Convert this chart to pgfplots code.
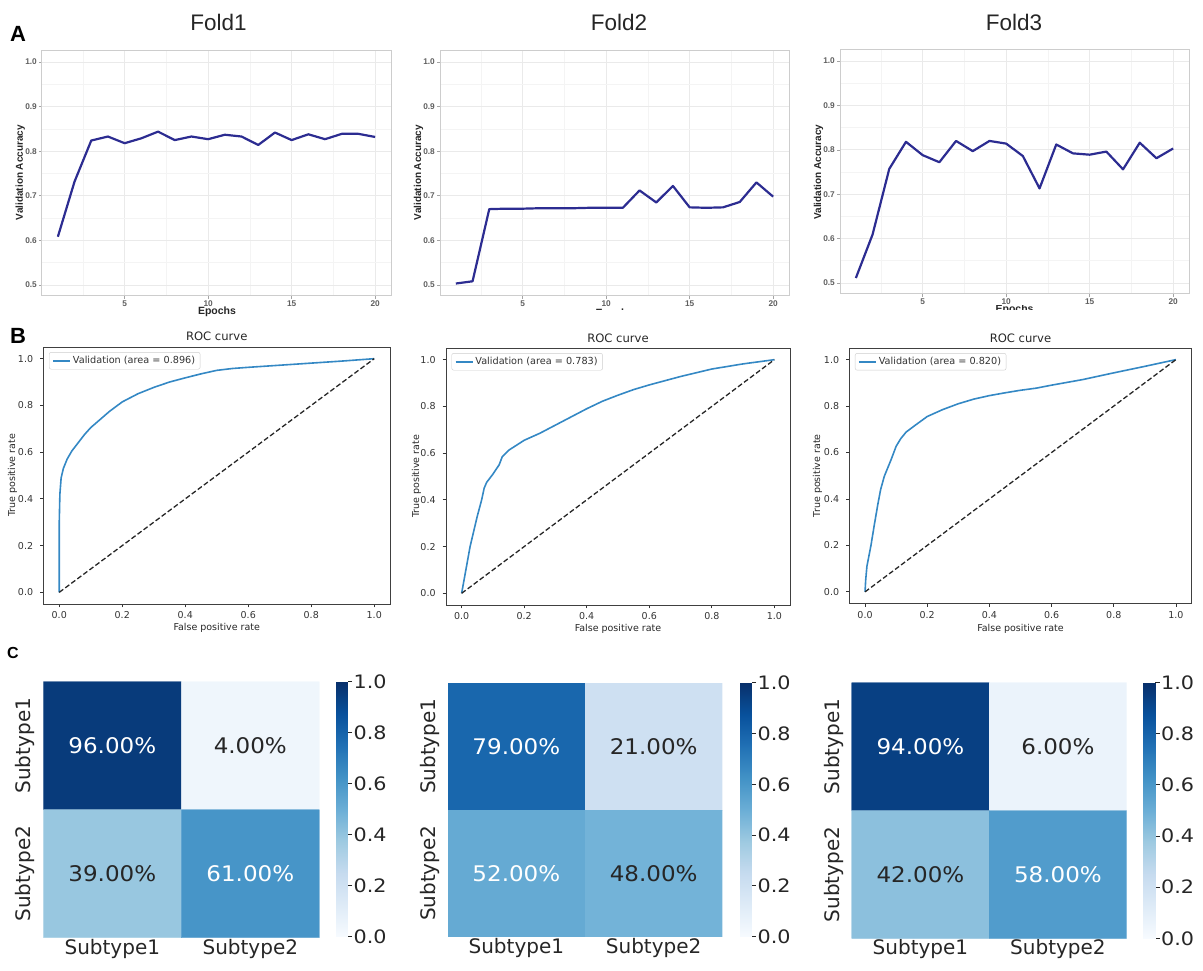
\documentclass[border=0pt]{standalone}
\usepackage{fontspec}
\setmainfont{DejaVu Sans}
\newfontfamily\arial{Liberation Sans}
\newfontfamily\dvs[FakeStretch=1.07]{DejaVu Sans}
\newfontfamily\dvsw[FakeStretch=1.12]{DejaVu Sans}
\usepackage{pgfplots}
\pgfplotsset{compat=1.18}
\definecolor{navyA}{RGB}{44,44,145}
\definecolor{gridA}{RGB}{234,234,234}
\definecolor{gridAm}{RGB}{244,244,244}
\definecolor{borderA}{RGB}{205,205,205}
\definecolor{tlA}{RGB}{95,95,95}
\definecolor{rocblue}{RGB}{52,136,196}
\definecolor{cdark}{RGB}{38,38,38}
\newcommand\fs[1]{\fontsize{#1}{#1}\selectfont}
\tikzset{annot/.style={font=\dvs\fs{21.5}}}
\pgfplotsset{
  colormap={blues}{rgb255(0cm)=(247,251,255); rgb255(1cm)=(222,235,247); rgb255(2cm)=(198,219,239); rgb255(3cm)=(158,202,225); rgb255(4cm)=(107,174,214); rgb255(5cm)=(66,146,198); rgb255(6cm)=(33,113,181); rgb255(7cm)=(8,81,156); rgb255(8cm)=(8,48,107)},
  accA/.style={scale only axis, width=349pt, height=245pt,
    xmin=0.05, xmax=20.95, ymin=0.475, ymax=1.025,
    xtick={5,10,15,20}, ytick={0.5,0.6,0.7,0.8,0.9,1.0},
    minor xtick={2.5,7.5,12.5,17.5}, minor ytick={0.55,0.65,0.75,0.85,0.95},
    grid=both, major grid style={draw=gridA, line width=0.7pt},
    minor grid style={draw=gridAm, line width=0.5pt},
    axis line style={draw=borderA, line width=1pt},
    tick align=outside, tickpos=left, major tick length=3pt, minor tick length=0pt,
    tick style={draw=borderA!80!black, line width=0.6pt},
    /pgf/number format/assume math mode=true,
    tick label style={font=\arial\bfseries\fs{8.3}, text=tlA, inner sep=0pt},
    xticklabel style={anchor=north}, yticklabel style={anchor=east,
      /pgf/number format/fixed, /pgf/number format/fixed zerofill, /pgf/number format/precision=1},
    xticklabel shift=1.2pt, yticklabel shift=2pt},
  rocB/.style={scale only axis, xmin=-0.05, xmax=1.05, ymin=-0.05, ymax=1.05,
    xtick={0,0.2,0.4,0.6,0.8,1.0}, ytick={0,0.2,0.4,0.6,0.8,1.0},
    tick align=outside, tickpos=left, major tick length=3.5pt,
    tick style={draw=black!80, line width=0.8pt},
    axis line style={draw=black!75, line width=0.8pt},
    /pgf/number format/assume math mode=true,
    tick label style={font=\fs{9.5}, text=black!80, inner sep=0pt,
      /pgf/number format/fixed, /pgf/number format/fixed zerofill, /pgf/number format/precision=1},
    xticklabel style={anchor=north}, yticklabel style={anchor=east},
    xticklabel shift=4.2pt, yticklabel shift=6.7pt,
    legend style={at={(0.016,0.98)}, anchor=north west, draw=black!20, rounded corners=2pt,
      font=\fs{9.7}, text=black!80, inner xsep=3pt, inner ysep=2pt},
    legend cell align=left},
  heatC/.style={scale only axis, xmin=-0.5, xmax=1.5, ymin=-0.5, ymax=1.5, y dir=reverse,
    xtick={0,1}, ytick={0,1}, xticklabels={Subtype1,Subtype2}, yticklabels={Subtype1,Subtype2},
    axis line style={draw=none}, major tick length=0pt,
    tick label style={font=\fs{20}, text=cdark, inner sep=0pt},
    xticklabel style={anchor=base}, yticklabel style={rotate=90, anchor=south},
    xticklabel shift=16.5pt, yticklabel shift=8pt,
    colormap name=blues, point meta min=0, point meta max=1},
  cbarC/.style={scale only axis, width=12pt, xmin=0, xmax=1, ymin=0, ymax=1,
    xtick=\empty, ytick={0,0.2,0.4,0.6,0.8,1.0}, ytick pos=right, yticklabel pos=right,
    axis line style={draw=none}, tick align=outside, major tick length=4.5pt,
    tick style={draw=cdark, line width=0.9pt},
    /pgf/number format/assume math mode=true,
    tick label style={font=\dvsw\fs{18.5}, text=cdark, inner sep=0pt, anchor=west,
      /pgf/number format/fixed, /pgf/number format/fixed zerofill, /pgf/number format/precision=1},
    yticklabel shift=1.5pt,
    colormap name=blues, point meta min=0, point meta max=1},
}
\begin{document}
\begin{tikzpicture}
\useasboundingbox (0,0) rectangle (1203pt,970pt);
% ---------------- Row A ----------------
\begin{axis}[accA, at={(42pt,674pt)}]
\addplot[navyA, line width=2.2pt, line join=round] table {
x y
1 0.608
2 0.732
3 0.824
4 0.833
5 0.818
6 0.829
7 0.844
8 0.825
9 0.833
10 0.827
11 0.837
12 0.833
13 0.814
14 0.842
15 0.825
16 0.838
17 0.827
18 0.839
19 0.839
20 0.832
};
\end{axis}
\begin{axis}[accA, at={(440pt,674pt)}]
\addplot[navyA, line width=2.2pt, line join=round] table {
x y
1 0.503
2 0.508
3 0.670
4 0.671
5 0.671
6 0.672
7 0.672
8 0.672
9 0.673
10 0.673
11 0.673
12 0.712
13 0.685
14 0.722
15 0.674
16 0.673
17 0.674
18 0.686
19 0.730
20 0.698
};
\end{axis}
\begin{axis}[accA, at={(840pt,676pt)}, height=244pt]
\addplot[navyA, line width=2.2pt, line join=round] table {
x y
1 0.511
2 0.609
3 0.757
4 0.818
5 0.788
6 0.772
7 0.820
8 0.797
9 0.820
10 0.814
11 0.786
12 0.713
13 0.812
14 0.792
15 0.789
16 0.796
17 0.756
18 0.816
19 0.781
20 0.803
};
\end{axis}
\node[anchor=base, font=\arial\fs{22.5}, text=black!85] at (218.5pt,939.3pt) {Fold1};
\node[anchor=base, font=\arial\fs{22.5}, text=black!85] at (619pt,939.3pt) {Fold2};
\node[anchor=base, font=\arial\fs{22.5}, text=black!85] at (1014pt,939.3pt) {Fold3};
\node[anchor=base west, inner sep=0pt, font=\arial\bfseries\fs{22}] at (10pt,928pt) {A};
\node[anchor=base west, inner sep=0pt, font=\arial\bfseries\fs{22}] at (10pt,626.7pt) {B};
\node[anchor=base west, inner sep=0pt, font=\arial\bfseries\fs{16}] at (7pt,311.7pt) {C};
\node[rotate=90, font=\arial\bfseries\fs{10}, text=black!85] at (20.2pt,797.5pt) {Validation Accuracy};
\node[rotate=90, font=\arial\bfseries\fs{10}, text=black!85] at (418.5pt,797.5pt) {Validation Accuracy};
\node[rotate=90, font=\arial\bfseries\fs{10}, text=black!85] at (818.5pt,798pt) {Validation Accuracy};
\node[anchor=base, font=\arial\bfseries\fs{10.5}, text=black!85] at (217pt,655pt) {Epochs};
\begin{scope}
\clip (570pt,660.5pt) rectangle (660pt,664pt);
\node[anchor=base, font=\arial\bfseries\fs{10.5}, text=black!85] at (614.5pt,653.5pt) {Epochs};
\end{scope}
\begin{scope}
\clip (970pt,660pt) rectangle (1060pt,664.5pt);
\node[anchor=base, font=\arial\bfseries\fs{10.5}, text=black!85] at (1014.6pt,657pt) {Epochs};
\end{scope}
% ---------------- Row B ----------------
\begin{axis}[rocB, at={(43.5pt,366pt)}, width=346.5pt, height=257pt]
\addplot[rocblue, line width=1.6pt, line join=round] table {
x y
0 0
0 0.30
0.002 0.42
0.006 0.49
0.013 0.53
0.025 0.57
0.04 0.605
0.06 0.64
0.08 0.675
0.10 0.705
0.13 0.74
0.16 0.775
0.20 0.815
0.25 0.85
0.30 0.877
0.35 0.90
0.40 0.918
0.45 0.935
0.50 0.95
0.55 0.958
0.60 0.963
0.70 0.972
0.80 0.981
0.90 0.99
1 1
};
\addlegendentry{Validation (area = 0.896)}
\addplot[forget plot, black!85, line width=1.3pt, dash pattern=on 5pt off 2.5pt] table {
x y
0 0
1 1
};
\end{axis}
\begin{axis}[rocB, at={(446pt,365pt)}, width=344pt, height=257pt]
\addplot[rocblue, line width=1.6pt, line join=round] table {
x y
0 0
0.027 0.20
0.05 0.33
0.064 0.40
0.072 0.45
0.08 0.475
0.10 0.51
0.12 0.55
0.13 0.585
0.15 0.612
0.20 0.655
0.25 0.685
0.30 0.72
0.35 0.755
0.40 0.79
0.45 0.822
0.50 0.848
0.55 0.872
0.60 0.892
0.70 0.928
0.80 0.96
0.90 0.982
1 1
};
\addlegendentry{Validation (area = 0.783)}
\addplot[forget plot, black!85, line width=1.3pt, dash pattern=on 5pt off 2.5pt] table {
x y
0 0
1 1
};
\end{axis}
\begin{axis}[rocB, at={(849.5pt,366.5pt)}, width=342pt, height=255.5pt]
\addplot[rocblue, line width=1.6pt, line join=round] table {
x y
0 0
0.002 0.05
0.006 0.11
0.019 0.20
0.03 0.29
0.041 0.376
0.05 0.44
0.062 0.498
0.084 0.57
0.10 0.627
0.115 0.66
0.132 0.688
0.164 0.72
0.20 0.755
0.25 0.785
0.30 0.81
0.35 0.83
0.40 0.845
0.45 0.857
0.50 0.868
0.55 0.877
0.60 0.89
0.70 0.914
0.80 0.943
0.90 0.971
1 1
};
\addlegendentry{Validation (area = 0.820)}
\addplot[forget plot, black!85, line width=1.3pt, dash pattern=on 5pt off 2.5pt] table {
x y
0 0
1 1
};
\end{axis}
\node[anchor=base, font=\fs{11.6}, text=black!85] at (216.75pt,629.3pt) {ROC curve};
\node[anchor=base, font=\fs{11.6}, text=black!85] at (618pt,627.3pt) {ROC curve};
\node[anchor=base, font=\fs{11.6}, text=black!85] at (1020.5pt,627.3pt) {ROC curve};
\node[anchor=base, font=\fs{9.5}, text=black!85] at (216.75pt,339pt) {False positive rate};
\node[anchor=base, font=\fs{9.5}, text=black!85] at (618pt,338pt) {False positive rate};
\node[anchor=base, font=\fs{9.5}, text=black!85] at (1020.5pt,338pt) {False positive rate};
\node[rotate=90, font=\fs{9.5}, text=black!85] at (12.5pt,494.5pt) {True positive rate};
\node[rotate=90, font=\fs{9.5}, text=black!85] at (416.5pt,493.5pt) {True positive rate};
\node[rotate=90, font=\fs{9.5}, text=black!85] at (817.5pt,494.2pt) {True positive rate};
% ---------------- Row C ----------------
\begin{axis}[heatC, at={(43.3pt,32.3pt)}, width=276pt, height=256pt]
\addplot[matrix plot*, mesh/cols=2, point meta=explicit] table[meta=c] {
x y c
0 0 0.96
1 0 0.04
0 1 0.39
1 1 0.61
};
\node[annot, text=white] at (axis cs:0,0) {96.00\%};
\node[annot, text=cdark] at (axis cs:1,0) {4.00\%};
\node[annot, text=cdark] at (axis cs:0,1) {39.00\%};
\node[annot, text=white] at (axis cs:1,1) {61.00\%};
\end{axis}
\begin{axis}[cbarC, at={(335.5pt,33.3pt)}, height=255pt]
\addplot[surf, shader=interp, point meta=y, mesh/rows=2, mesh/cols=2] coordinates {(0,0) (1,0) (0,1) (1,1)};
\end{axis}
\begin{axis}[heatC, at={(447.7pt,33.3pt)}, width=274.6pt, height=254pt]
\addplot[matrix plot*, mesh/cols=2, point meta=explicit] table[meta=c] {
x y c
0 0 0.79
1 0 0.21
0 1 0.52
1 1 0.48
};
\node[annot, text=white] at (axis cs:0,0) {79.00\%};
\node[annot, text=cdark] at (axis cs:1,0) {21.00\%};
\node[annot, text=white] at (axis cs:0,1) {52.00\%};
\node[annot, text=cdark] at (axis cs:1,1) {48.00\%};
\end{axis}
\begin{axis}[cbarC, at={(739.5pt,33.3pt)}, height=254pt]
\addplot[surf, shader=interp, point meta=y, mesh/rows=2, mesh/cols=2] coordinates {(0,0) (1,0) (0,1) (1,1)};
\end{axis}
\begin{axis}[heatC, at={(851.7pt,31.7pt)}, width=275pt, height=255.6pt]
\addplot[matrix plot*, mesh/cols=2, point meta=explicit] table[meta=c] {
x y c
0 0 0.94
1 0 0.06
0 1 0.42
1 1 0.58
};
\node[annot, text=white] at (axis cs:0,0) {94.00\%};
\node[annot, text=cdark] at (axis cs:1,0) {6.00\%};
\node[annot, text=cdark] at (axis cs:0,1) {42.00\%};
\node[annot, text=white] at (axis cs:1,1) {58.00\%};
\end{axis}
\begin{axis}[cbarC, at={(1143pt,31.7pt)}, height=255.6pt]
\addplot[surf, shader=interp, point meta=y, mesh/rows=2, mesh/cols=2] coordinates {(0,0) (1,0) (0,1) (1,1)};
\end{axis}
\end{tikzpicture}
\end{document}
